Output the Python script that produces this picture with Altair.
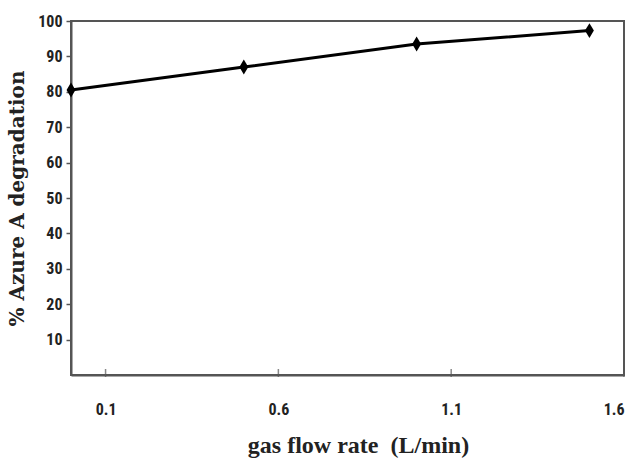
import altair as alt
import pandas as pd

flow = [0.0, 0.5, 1.0, 1.5]
degradation = [80.5, 87.0, 93.5, 97.3]
x_ticks = [0.1, 0.6, 1.1, 1.6]
y_ticks = [10, 20, 30, 40, 50, 60, 70, 80, 90, 100]

df = pd.DataFrame({"flow": flow, "deg": degradation})
tick_df = pd.DataFrame({"t": x_ticks})

W, H = 553, 354
label_font = "Liberation Sans Narrow, Arial Narrow, Roboto Condensed, Liberation Sans, sans-serif"
title_font = "Liberation Serif, Times New Roman, serif"

xscale = alt.Scale(domain=[0, 1.6], nice=False, zero=False)
yscale = alt.Scale(domain=[0, 100], nice=False)

x_axis = alt.Axis(values=x_ticks, format=".1f", tickSize=0, labelPadding=26,
                  grid=False, domainColor="#555", domainWidth=2,
                  labelOverlap=False,
                  labelFont=label_font, labelFontSize=16, labelColor="#222",
                  labelFontWeight="bold",
                  title="gas flow rate\u00a0\u00a0(L/min)", titleFont=title_font,
                  titleFontSize=24, titleFontWeight="bold", titleColor="#222",
                  titlePadding=16, titleX=287)
y_axis = alt.Axis(values=y_ticks, tickSize=5, tickColor="#555", tickWidth=1.5,
                  labelPadding=4, grid=False, domainColor="#555", domainWidth=2,
                  labelOverlap=False, labelBound=False, labelFlush=False,
                  labelFont=label_font, labelFontSize=16, labelColor="#222",
                  labelFontWeight="bold",
                  title="% Azure A degradation", titleFont="DejaVu Serif",
                  titleFontSize=20, titleFontWeight="bold", titleColor="#222",
                  titlePadding=10)

line = alt.Chart(df).mark_line(
    color="black", strokeWidth=3,
    point=alt.OverlayMarkDef(shape="M0,-1L0.6,0L0,1L-0.6,0Z", filled=True,
                             color="black", opacity=1, size=220),
).encode(
    x=alt.X("flow:Q", scale=xscale, axis=x_axis),
    y=alt.Y("deg:Q", scale=yscale, axis=y_axis),
)

ticks = alt.Chart(tick_df).mark_tick(color="#555", thickness=1.5, size=8, orient="vertical").encode(
    x=alt.X("t:Q", scale=xscale, axis=x_axis), y=alt.value(H - 2)
)

chart = alt.layer(ticks, line).properties(
    width=W, height=H,
    background="white",
    autosize=alt.AutoSizeParams(type="none"),
    padding={"left": 71, "top": 21, "right": 15, "bottom": 93},
).configure_view(stroke="#555", strokeWidth=2).configure_axis(labelOverlap=False)

chart.save("out.html", embed_options={"renderer": "svg", "actions": False})
